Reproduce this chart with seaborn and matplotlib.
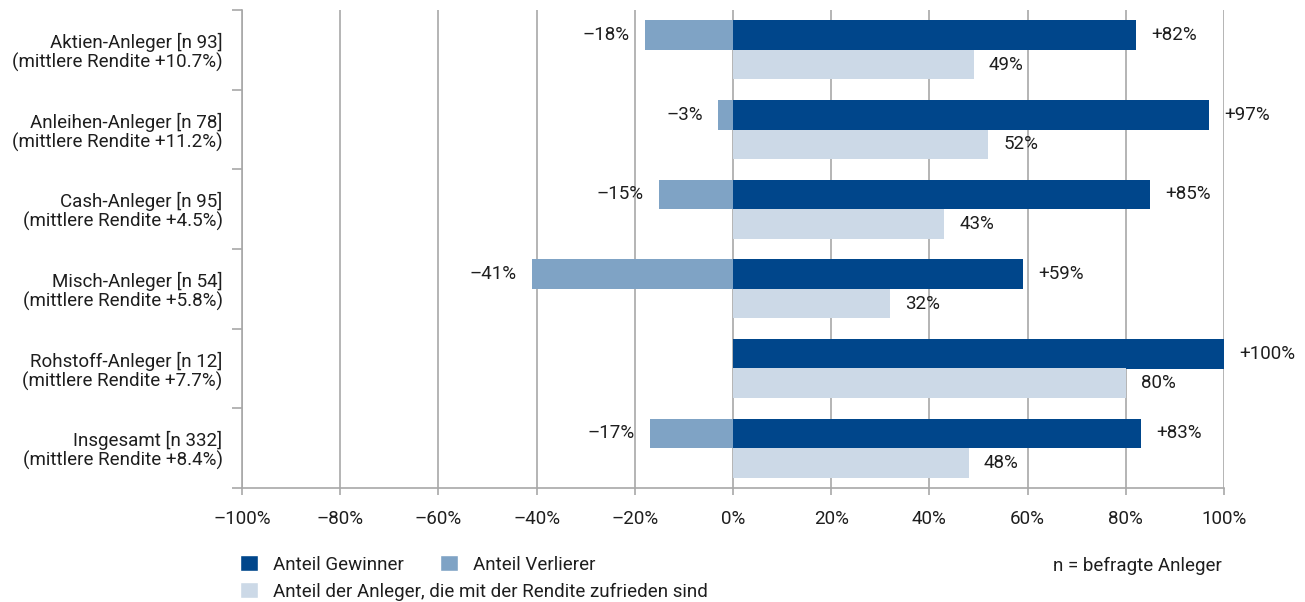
import matplotlib
matplotlib.use("Agg")
import matplotlib.pyplot as plt
import matplotlib.ticker as mticker
from matplotlib.patches import Patch
from matplotlib.colors import to_hex
import seaborn as sns
import pandas as pd

categories = [
    "Aktien-Anleger [n 93]\n(mittlere Rendite +10.7%)",
    "Anleihen-Anleger [n 78]\n(mittlere Rendite +11.2%)",
    "Cash-Anleger [n 95]\n(mittlere Rendite +4.5%)",
    "Misch-Anleger [n 54]\n(mittlere Rendite +5.8%)",
    "Rohstoff-Anleger [n 12]\n(mittlere Rendite +7.7%)",
    "Insgesamt [n 332]\n(mittlere Rendite +8.4%)",
]
gewinner = [82, 97, 85, 59, 100, 83]
verlierer = [-18, -3, -15, -41, 0, -17]
zufrieden = [49, 52, 43, 32, 80, 48]
x_ticks = [-100, -80, -60, -40, -20, 0, 20, 40, 60, 80, 100]

lab_g = "Anteil Gewinner"
lab_v = "Anteil Verlierer"
lab_z = "Anteil der Anleger, die mit der Rendite zufrieden sind"

c_g = "#00468b"
c_v = "#7fa3c5"
c_z = "#ccd9e7"
grid_c = "#a8a8a8"
txt_c = "#1e1e1e"

sns.set_theme(style="white")
plt.rcParams["font.family"] = ["Roboto", "DejaVu Sans"]
plt.rcParams["text.color"] = txt_c

n = len(categories)
df_main = pd.DataFrame({
    "cat": categories * 2,
    "val": gewinner + zufrieden,
    "row": ["top"] * n + ["bottom"] * n,
})
df_loss = pd.DataFrame({
    "cat": categories * 2,
    "val": verlierer + [0] * n,
    "row": ["top"] * n + ["bottom"] * n,
})

fig = plt.figure(figsize=(13.05, 6.02), dpi=100)
ax = fig.add_axes([242 / 1305, 1 - 488 / 602, (1224 - 242) / 1305, (488 - 10) / 602])

sns.barplot(data=df_main, x="val", y="cat", hue="row", order=categories,
            hue_order=["top", "bottom"], palette={"top": c_g, "bottom": c_z},
            orient="h", width=0.74, errorbar=None, linewidth=0, legend=False,
            saturation=1, ax=ax)
sns.barplot(data=df_loss, x="val", y="cat", hue="row", order=categories,
            hue_order=["top", "bottom"], palette={"top": c_v, "bottom": c_z},
            orient="h", width=0.74, errorbar=None, linewidth=0, legend=False,
            saturation=1, ax=ax)

fs = 13.5


def fmt_signed(w):
    if abs(w) < 0.5:
        return ""
    return ("+" if w > 0 else "\u2013") + f"{abs(w):.0f}%"


for cont in ax.containers:
    col = to_hex(cont.patches[0].get_facecolor())
    widths = [p.get_width() for p in cont.patches]
    if col == c_z:
        labels = [f"{w:.0f}%" if abs(w) >= 0.5 else "" for w in widths]
    else:
        labels = [fmt_signed(w) for w in widths]
    ax.bar_label(cont, labels=labels, padding=11, fontsize=fs, color=txt_c)

ax.set_xlim(-100, 100)
ax.set_ylim(n - 0.5, -0.5)
ax.set_xticks(x_ticks)
ax.set_xticklabels([("\u2013" if t < 0 else "") + f"{abs(t)}%" for t in x_ticks])
ax.set_xlabel("")
ax.set_ylabel("")
ax.set_axisbelow(True)
ax.grid(axis="x", color=grid_c, lw=1.2)
ax.grid(axis="y", visible=False)

for s in ["top", "right"]:
    ax.spines[s].set_visible(False)
for s in ["left", "bottom"]:
    ax.spines[s].set_color(grid_c)
    ax.spines[s].set_linewidth(1.2)

ax.tick_params(axis="x", which="major", length=5, width=1.2, color=grid_c,
               direction="out", pad=11, labelsize=fs, labelcolor=txt_c, bottom=True)
ax.tick_params(axis="y", which="major", length=0, pad=14, labelsize=fs, labelcolor=txt_c)
ax.yaxis.set_minor_locator(mticker.FixedLocator([i - 0.5 for i in range(n + 1)]))
ax.tick_params(axis="y", which="minor", length=7, width=1.2, color=grid_c, direction="out", left=True)
for lbl in ax.get_yticklabels():
    lbl.set_horizontalalignment("right")
    lbl.set_multialignment("right")
    lbl.set_linespacing(1.05)

handles1 = [Patch(facecolor=c_g, label=lab_g), Patch(facecolor=c_v, label=lab_v)]
handles2 = [Patch(facecolor=c_z, label=lab_z)]
leg_kw = dict(frameon=False, loc="upper left", fontsize=fs, handlelength=0.96,
              handleheight=0.96, handletextpad=0.8, borderpad=0, borderaxespad=0,
              labelcolor=txt_c)
fig.legend(handles=handles1, ncol=2, columnspacing=1.95,
           bbox_to_anchor=(240 / 1305, 1 - 555 / 602), **leg_kw)
fig.legend(handles=handles2, ncol=1,
           bbox_to_anchor=(240 / 1305, 1 - 582 / 602), **leg_kw)

fig.text(1222 / 1305, 1 - 566 / 602, "n = befragte Anleger", ha="right", va="center",
         fontsize=fs, color=txt_c)

fig.savefig("out.png", dpi=100)
